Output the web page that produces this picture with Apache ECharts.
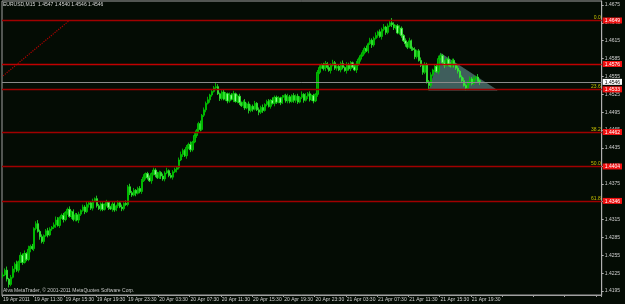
<!DOCTYPE html>
<html><head><meta charset="utf-8">
<script src="https://cdn.jsdelivr.net/npm/echarts@6/dist/echarts.min.js"></script>
<style>html,body{margin:0;padding:0;background:#040c04;}#c{width:625px;height:304px;}</style>
</head><body><div id="c"></div>
<script>
const symbolTitle = "EURUSD,M15  1.4547 1.4540 1.4546 1.4546";
const copyright = "Alva MetaTrader, \u00a9 2001-2011 MetaQuotes Software Corp.";
const timeLabels = ["19 Apr 2011","19 Apr 11:30","19 Apr 15:30","19 Apr 19:30","19 Apr 23:30",
  "20 Apr 03:30","20 Apr 07:30","20 Apr 11:30","20 Apr 15:30","20 Apr 19:30","20 Apr 23:30",
  "21 Apr 03:30","21 Apr 07:30","21 Apr 11:30","21 Apr 15:30","21 Apr 19:30"];
// prices in pips above 1.4000
const firstOpen = 220;
const closes = [
 222,230,215,206,218,232,240,230,244,255,243,258,248,265,270,266,
 300,308,295,286,278,288,296,289,299,302,
 306,314,305,318,322,315,327,332,320,328,
 315,323,314,324,330,336,328,340,343,334,
 346,350,338,333,341,332,340,344,335,333,341,331,338,343,336,333,342,340,
 370,
 360,356,364,359,367,362,380,
 386,392,385,380,392,398,390,385,394,388,383,393,397,389,386,395,399,402,
 415,424,431,422,436,441,432,445,
 456,464,476,466,490,499,510,516,
 524,530,536,538,526,518,529,517,526,514,524,
 517,526,513,522,511,
 506,512,502,509,498,505,500,510,499,495,503,498,
 508,513,505,515,510,520,512,519,511,520,523,514,
 521,513,523,515,522,512,520,525,515,522,526,516,523,514,525,
 562,570,
 575,568,577,570,565,574,578,569,572,566,577,570,565,575,568,578,571,566,576,
 584,590,595,602,598,610,616,608,619,
 624,630,622,634,638,629,640,645,642,637,
 640,628,636,624,615,610,604,615,602,
 600,588,598,582,574,562,575,546,540,
 558,566,572,563,585,590,
 578,574,584,576,572,582,575,569,
 564,554,548,540,536,546,
 551,543,552,554,548,546];
const wickUp = "4362453625352634246342353246523423524334243523425333242353243425353423435234243532435243324532435243352435243742353243523423524334243523425333242353243425253423244234243532435243324532435243352435243842353243523423524334243543425333242353243425 2".replace(/ /g,'');
const wickDn = "3245326342423352432534242335242534243325324253423243234253242432343252342432534225342324253242534324432342532424323432523424325342253423242532425343244323425324243234325234243253422534232425324253432443234253242432343383342432534225342324253242 5".replace(/ /g,'');
const priceTicks = [195,225,255,285,315,345,375,405,435,465,495,525,555,585,615,645,675];
const fibNames = ["0.0","23.6","38.2","50.0","61.8"];
const fibPrices = [649,533.4,461.8,404,346.2];
const hLinePrice = 576;
const bidPrice = 546;
const trendBars = [0,34], trendPrices = [556,649];
const triBars = [224,218,253], triPrices = [594,532,532];

const N = 307;
const cats = Array.from({length:N},(_, i)=>String(i));
const ohlc = closes.map((c,i)=>{
  const o = i===0 ? firstOpen : closes[i-1];
  const h = Math.max(o,c) + Number(wickUp[i] || 2);
  const l = Math.min(o,c) - Number(wickDn[i] || 2);
  return [o,c,l,h];
});
const fmtP = v => (1.4 + v/10000).toFixed(4);
const FONT = 'Liberation Sans';

const chart = echarts.init(document.getElementById('c'), null, {renderer:'canvas'});
chart.setOption({
  backgroundColor:'#040c04',
  animation:false,
  grid:{left:1,right:19,top:1,bottom:9,show:true,borderColor:'#a0a0a0',borderWidth:1,backgroundColor:'transparent'},
  xAxis:{type:'category',data:cats,boundaryGap:true,
    axisLine:{lineStyle:{color:'#a0a0a0'}},
    axisTick:{show:true,interval:(i)=>i%16===0,length:2,lineStyle:{color:'#a0a0a0'}},
    axisLabel:{interval:(i)=>i%16===0,formatter:(v,i)=>timeLabels[i/16]||'',align:'left',margin:2,
      fontSize:5,fontFamily:FONT,color:'#d0d0d0'},
    splitLine:{show:false}},
  yAxis:[
    {type:'value',position:'right',min:188.3,max:681.7,scale:true,
     axisLine:{show:true,lineStyle:{color:'#b0b0b0'}},
     axisTick:{show:true,customValues:priceTicks,length:2,lineStyle:{color:'#b0b0b0'}},
     axisLabel:{customValues:priceTicks,formatter:fmtP,fontSize:5,fontFamily:FONT,color:'#d0d0d0',margin:3},
     splitLine:{show:false}},
    {type:'value',position:'right',min:188.3,max:681.7,
     axisLine:{show:false},axisTick:{show:false},splitLine:{show:false},
     axisLabel:{customValues:[...fibPrices,hLinePrice,bidPrice],margin:1,
       formatter:(v)=> (Math.abs(v-bidPrice)<0.01 ? '{w|' : '{r|') + fmtP(v) + '}',
       rich:{
         r:{backgroundColor:'#f01010',color:'#ffffff',fontSize:5,fontFamily:FONT,padding:[1,2,0,2]},
         w:{backgroundColor:'#ffffff',color:'#000000',fontSize:5,fontFamily:FONT,padding:[1,2,0,2]}
       }}}
  ],
  series:[
    {type:'custom',z:1,yAxisIndex:0,data:[0],silent:true,
     renderItem:(params,api)=>({type:'polygon',
       shape:{points:triBars.map((b,k)=>api.coord([b,triPrices[k]]))},
       style:{fill:'#3f5e5c',stroke:'#527472',lineWidth:0.5}})},
    {type:'candlestick',z:3,yAxisIndex:0,data:ohlc,barWidth:1.8,
     itemStyle:{color:'#009a00',color0:'#98f098',borderColor:'#00d000',borderColor0:'#28f028',borderWidth:0.8}},
    {type:'line',z:4,yAxisIndex:1,data:trendBars.map((b,k)=>[b,trendPrices[k]]),symbol:'none',
     lineStyle:{color:'#b00000',type:'dotted',width:1.2},
     markLine:{silent:true,symbol:'none',z:5,
       data:[
         ...fibPrices.map((p,k)=>({yAxis:p,name:fibNames[k],lineStyle:{color:'#a00000',width:1.3,type:'solid'},
           label:{show:true,position:'insideEndTop',formatter:fibNames[k],color:'#c8c000',fontSize:5,fontFamily:FONT,distance:[1,0]}})),
         {yAxis:hLinePrice,lineStyle:{color:'#c00000',width:1.3,type:'solid'},label:{show:false}},
         {yAxis:bidPrice,lineStyle:{color:'#8a8a8a',width:1,type:'solid'},label:{show:false}}
       ]}}
  ],
  graphic:[
    {type:'text',left:3,top:2,style:{text:symbolTitle,fontSize:5,fontFamily:FONT,fill:'#d8d8d8'}},
    {type:'text',left:3,top:288,style:{text:copyright,fontSize:5,fontFamily:FONT,fill:'#c8c8c8'}}
  ]
});
</script></body></html>
